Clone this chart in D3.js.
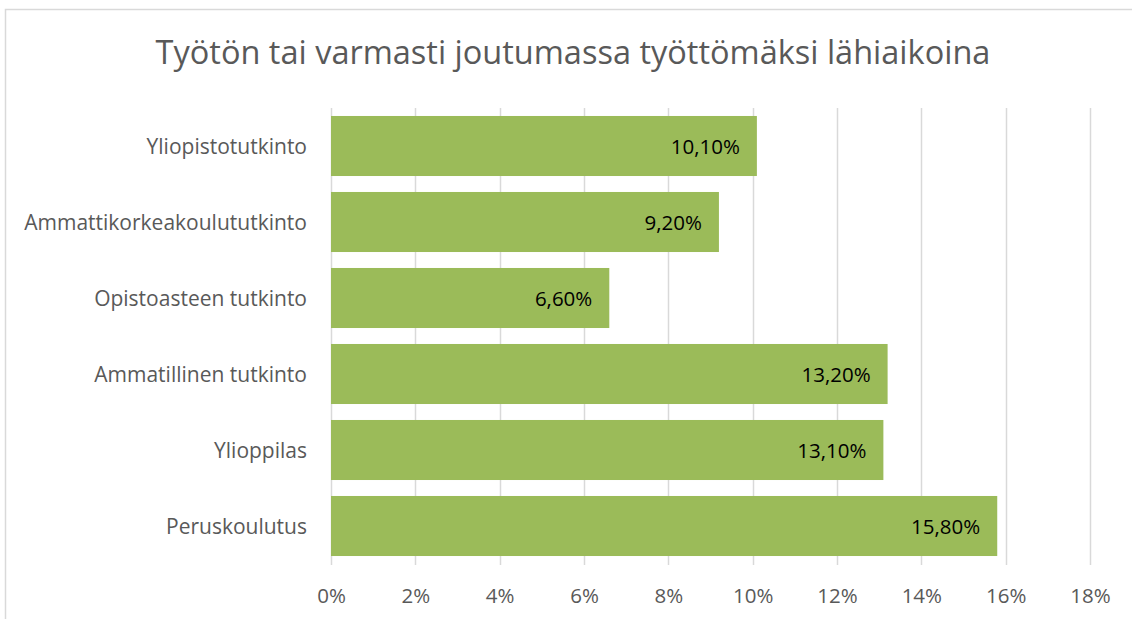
<!DOCTYPE html>
<html>
<head>
<meta charset="utf-8">
<script src="https://cdn.jsdelivr.net/npm/d3@7"></script>
<style>
  body { margin: 0; background: #fff; overflow: hidden; }
  svg { display: block; font-family: "Open Sans", sans-serif; }
</style>
</head>
<body>
<svg id="chart" width="1132" height="619"></svg>
<script>
// Chart data.
var title = "Työtön tai varmasti joutumassa työttömäksi lähiaikoina";
var categories = ["Yliopistotutkinto", "Ammattikorkeakoulututkinto", "Opistoasteen tutkinto",
                  "Ammatillinen tutkinto", "Ylioppilas", "Peruskoulutus"];
var values = [10.1, 9.2, 6.6, 13.2, 13.1, 15.8];
var ticks = [0, 2, 4, 6, 8, 10, 12, 14, 16, 18];

var svg = d3.select("#chart");
var margin = { top: 108, left: 331 };

// Outer chart border (clipped at right and bottom like the reference).
svg.append("rect")
  .attr("x", 5.5).attr("y", 9.5)
  .attr("width", 1140).attr("height", 640)
  .attr("fill", "#fff")
  .attr("stroke", "#d9d9d9")
  .attr("stroke-width", 1.5);

svg.append("text")
  .attr("x", 573).attr("y", 64)
  .attr("text-anchor", "middle")
  .attr("fill", "#595959")
  .style("font-size", "32.5px")
  .text(title);

var x = d3.scaleLinear().domain([0, 18]).range([0, 759]);
var y = d3.scaleBand().domain(categories).range([0, 456]).paddingInner(0.21).paddingOuter(0.105);

var g = svg.append("g").attr("transform", "translate(" + margin.left + "," + margin.top + ")");

// Gridlines.
g.selectAll(".grid")
  .data(ticks)
  .enter()
  .append("line")
  .attr("x1", d => Math.round(x(d)) + 0.5)
  .attr("x2", d => Math.round(x(d)) + 0.5)
  .attr("y1", 0)
  .attr("y2", 457)
  .attr("stroke", "#d9d9d9")
  .attr("stroke-width", 1.5);

// Bars.
g.selectAll(".bar")
  .data(values)
  .enter()
  .append("rect")
  .attr("x", 0)
  .attr("y", (d, i) => y(categories[i]))
  .attr("width", d => x(d))
  .attr("height", y.bandwidth())
  .attr("fill", "#9bbb59");

// Value labels, inside end.
g.selectAll(".val")
  .data(values)
  .enter()
  .append("text")
  .attr("x", d => x(d) - 17)
  .attr("y", (d, i) => y(categories[i]) + y.bandwidth() / 2)
  .attr("dy", "0.4em")
  .attr("text-anchor", "end")
  .attr("fill", "#000")
  .style("font-size", "20.5px")
  .text(d => d.toFixed(2).replace(".", ",") + "%");

// Category axis labels.
var yAxis = g.append("g")
  .call(d3.axisLeft(y).tickSize(0).tickPadding(24));
yAxis.select(".domain").remove();
yAxis.selectAll("text")
  .attr("fill", "#595959")
  .attr("dy", "0.37em")
  .style("font-family", "'Open Sans', sans-serif")
  .style("font-size", "21px");

// Value axis labels.
var xAxis = g.append("g")
  .attr("transform", "translate(0,457)")
  .call(d3.axisBottom(x).tickValues(ticks).tickSize(0).tickPadding(23).tickFormat(d => d + "%"));
xAxis.select(".domain").remove();
xAxis.selectAll("text")
  .attr("fill", "#595959")
  .style("font-family", "'Open Sans', sans-serif")
  .style("font-size", "20.5px");
</script>
</body>
</html>
